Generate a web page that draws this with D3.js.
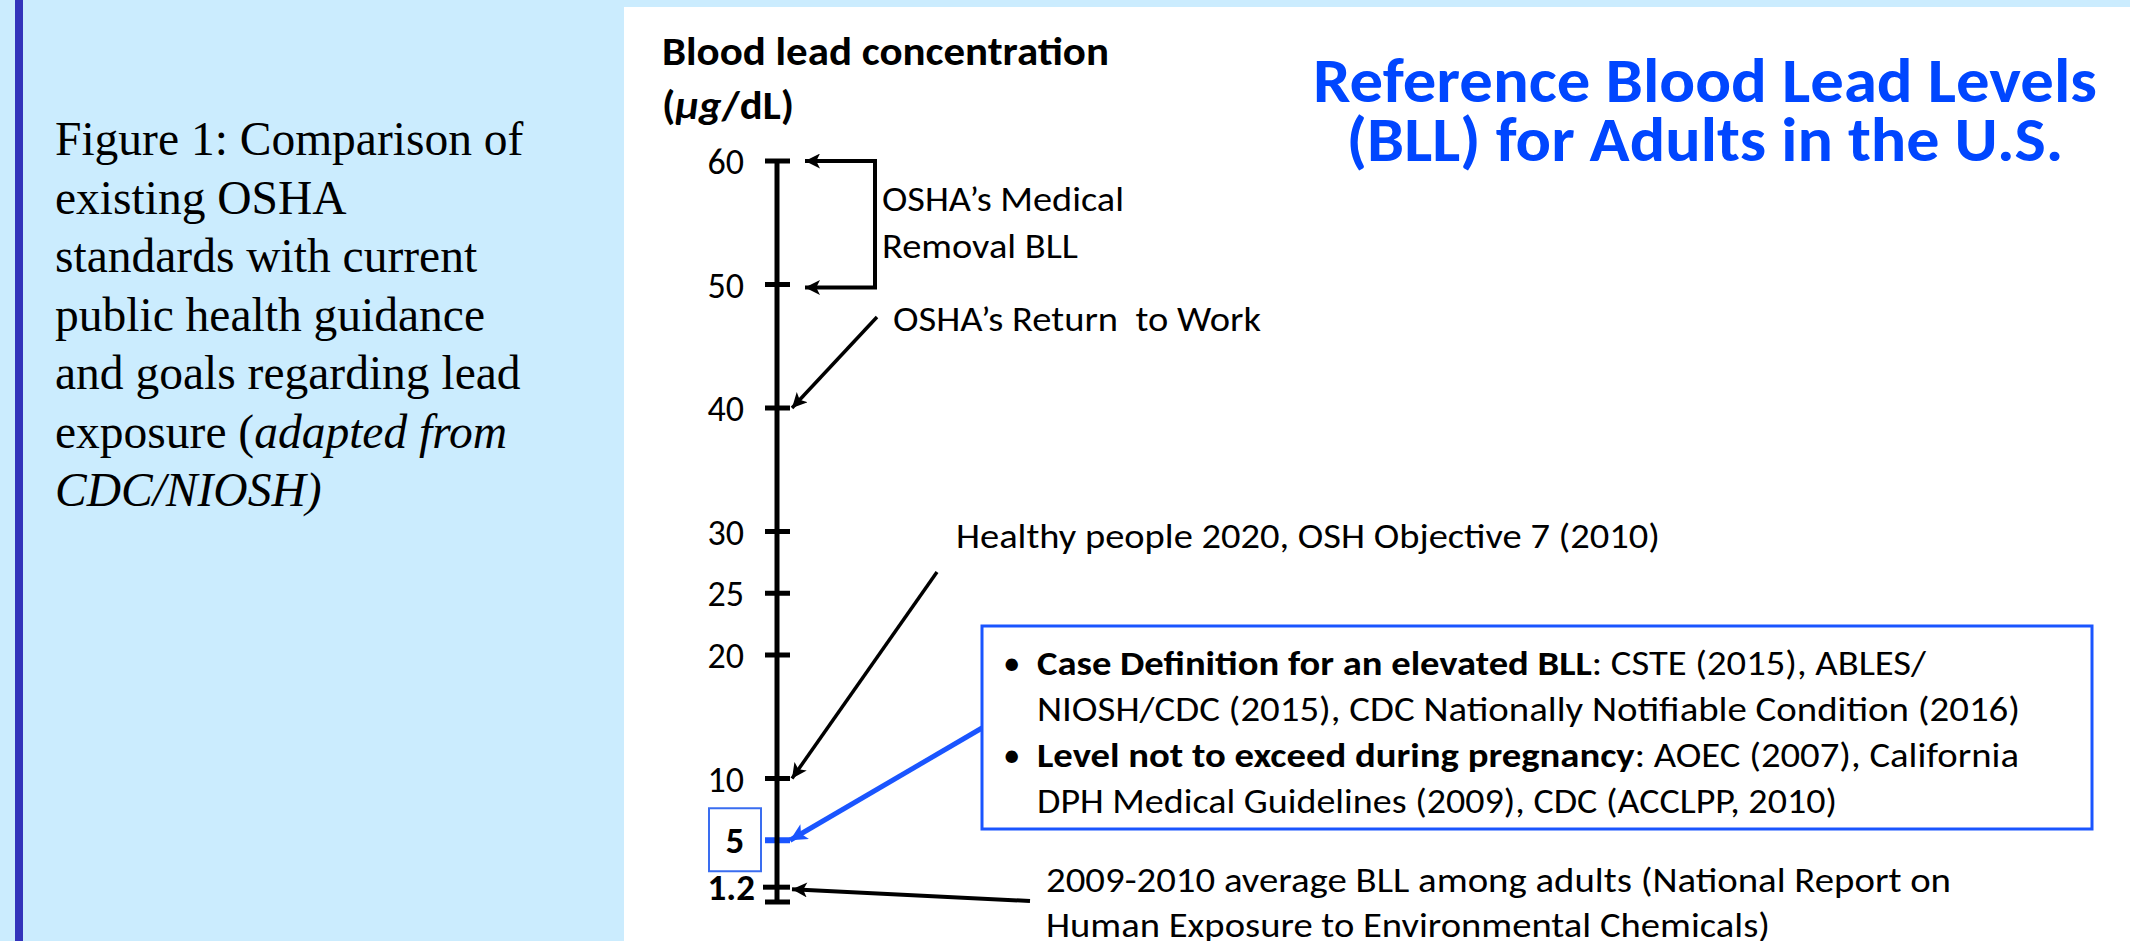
<!DOCTYPE html>
<html>
<head>
<meta charset="utf-8">
<script src="https://cdn.jsdelivr.net/npm/d3@7"></script>
<style>
  html, body { margin: 0; padding: 0; background: #cbecfe; overflow: hidden; }
  svg { display: block; }
  .sans { font-family: Carlito, Calibri, Lato, sans-serif; }
  .serif { font-family: "Liberation Serif", "Times New Roman", serif; }
  text { white-space: pre; }
</style>
</head>
<body>
<svg id="chart" width="2130" height="941"></svg>
<script>
// scale values, ug/dL
const tickValues = [60, 50, 40, 30, 25, 20, 10, 5, 1.2];
const boldTicks = [5, 1.2];
const highlightTick = 5;
const axisDomain = [0, 60];

// where each annotation points on the scale
const medicalRemoval = [60, 50];
const returnToWork = 40;
const healthyPeople = 10;
const caseDefinition = 5;
const adultAverage = 1.2;

const captionLines = [
  [['Figure 1: Comparison of', false]],
  [['existing OSHA', false]],
  [['standards with current', false]],
  [['public health guidance', false]],
  [['and goals regarding lead', false]],
  [['exposure (', false], ['adapted from', true]],
  [['CDC/NIOSH)', true]]
];
const titleLines = ['Reference Blood Lead Levels', '(BLL) for Adults in the U.S.'];
const axisTitle = 'Blood lead concentration';
const medicalLines = ['OSHA\u2019s Medical', 'Removal BLL'];
const returnLabel = 'OSHA\u2019s Return  to Work';
const healthyLabel = 'Healthy people 2020, OSH Objective 7 (2010)';
const boxLines = [
  ['Case Definition for an elevated BLL', ': CSTE (2015), ABLES/'],
  ['', 'NIOSH/CDC (2015), CDC Nationally Notifiable Condition (2016)'],
  ['Level not to exceed during pregnancy', ': AOEC (2007), California'],
  ['', 'DPH Medical Guidelines (2009), CDC (ACCLPP, 2010)']
];
const bulletRows = [0, 2];
const averageLines = [
  '2009-2010 average BLL among adults (National Report on',
  'Human Exposure to Environmental Chemicals)'
];

const svg = d3.select('#chart');
const blue = '#1a55ff';

// squeeze a text so it spans the width seen in the picture
function fit(sel, w) {
  sel.attr('textLength', w).attr('lengthAdjust', 'spacingAndGlyphs');
}

// backgrounds
svg.append('rect').attr('x', 15).attr('y', 0).attr('width', 8).attr('height', 941)
  .attr('fill', '#3333bb');
svg.append('rect').attr('x', 624).attr('y', 7).attr('width', 1506).attr('height', 934)
  .attr('fill', '#fff');

// caption on the left
const caption = svg.append('text').attr('class', 'serif')
  .attr('font-size', 47.5).attr('fill', '#000');
captionLines.forEach(function (line, i) {
  line.forEach(function (part, j) {
    const t = caption.append('tspan').text(part[0])
      .attr('font-style', part[1] ? 'italic' : 'normal');
    if (j === 0) t.attr('x', 55).attr('y', 155 + i * 58.5);
  });
});

// markers
const defs = svg.append('defs');
function marker(id, color, len, wid) {
  defs.append('marker').attr('id', id)
    .attr('viewBox', '0 0 10 10').attr('refX', 10).attr('refY', 5)
    .attr('markerUnits', 'userSpaceOnUse')
    .attr('markerWidth', len).attr('markerHeight', wid)
    .attr('orient', 'auto-start-reverse')
    .append('path').attr('d', 'M0,0 L10,5 L0,10 L2.5,5 z').attr('fill', color);
}
marker('arrowBlack', '#000', 18, 15);
marker('arrowBlue', blue, 22, 17);

// title
svg.append('g').selectAll('text').data(titleLines).enter().append('text')
  .attr('class', 'sans')
  .attr('x', 1705).attr('y', function (d, i) { return 102 + i * 59; })
  .attr('text-anchor', 'middle')
  .attr('font-size', 62).attr('font-weight', 'bold').attr('fill', '#0046ff')
  .text(function (d) { return d; })
  .each(function (d, i) { fit(d3.select(this), [784, 717][i]); });

// axis title
const at1 = svg.append('text').attr('class', 'sans').attr('x', 662).attr('y', 65)
  .attr('font-size', 40).attr('font-weight', 'bold').text(axisTitle);
fit(at1, 447);
const at2 = svg.append('text').attr('class', 'sans').attr('x', 662).attr('y', 119)
  .attr('font-size', 40).attr('font-weight', 'bold');
at2.append('tspan').text('(');
at2.append('tspan').attr('font-style', 'italic').text('\u03bcg');
at2.append('tspan').text('/dL)');
fit(at2, 132);

// scale
const y = d3.scaleLinear().domain(axisDomain).range([902, 161]);
const axisX = 777;
const axisG = svg.append('g');

// highlighted value box
axisG.append('rect').attr('x', axisX - 68).attr('y', y(highlightTick) - 32)
  .attr('width', 52).attr('height', 63)
  .attr('fill', 'none').attr('stroke', '#3a6df0').attr('stroke-width', 2);

axisG.selectAll('line.tick').data(tickValues.concat([axisDomain[0]])).enter()
  .append('line').attr('class', 'tick')
  .attr('x1', function (d) { return d === 1.2 ? axisX - 14 : axisX - 12; })
  .attr('x2', axisX + 13)
  .attr('y1', function (d) { return y(d); }).attr('y2', function (d) { return y(d); })
  .attr('stroke', function (d) { return d === highlightTick ? blue : '#000'; })
  .attr('stroke-width', function (d) { return d === highlightTick ? 6 : 5; });

axisG.append('line').attr('x1', axisX).attr('x2', axisX)
  .attr('y1', y(axisDomain[0]) + 2).attr('y2', y(axisDomain[1]) - 2)
  .attr('stroke', '#000').attr('stroke-width', 5);

axisG.selectAll('text.lbl').data(tickValues).enter().append('text')
  .attr('class', 'lbl sans')
  .attr('x', function (d) {
    if (d === highlightTick) return axisX - 42;
    if (d === 1.2) return axisX - 22;
    return axisX - 33;
  })
  .attr('y', function (d) { return y(d) + 13; })
  .attr('text-anchor', function (d) { return d === highlightTick ? 'middle' : 'end'; })
  .attr('font-size', function (d) { return boldTicks.indexOf(d) >= 0 ? 37 : 36; })
  .attr('font-weight', function (d) { return boldTicks.indexOf(d) >= 0 ? 'bold' : 'normal'; })
  .text(function (d) { return d; });

// annotations
const ann = svg.append('g').attr('class', 'sans').attr('font-size', 35).attr('fill', '#000');

// medical removal bracket
ann.append('path')
  .attr('d', 'M' + (axisX + 28) + ',' + y(medicalRemoval[0]) + 'H875V' + (y(medicalRemoval[1]) + 3) +
    'H' + (axisX + 28))
  .attr('fill', 'none').attr('stroke', '#000').attr('stroke-width', 4)
  .attr('marker-start', 'url(#arrowBlack)').attr('marker-end', 'url(#arrowBlack)');
ann.selectAll('text.med').data(medicalLines).enter().append('text').attr('class', 'med')
  .attr('x', 882).attr('y', function (d, i) { return 211 + i * 47; })
  .text(function (d) { return d; })
  .each(function (d, i) { fit(d3.select(this), [242, 196][i]); });

// return to work
ann.append('line').attr('x1', 877).attr('y1', 317).attr('x2', axisX + 15).attr('y2', y(returnToWork))
  .attr('stroke', '#000').attr('stroke-width', 3.5).attr('marker-end', 'url(#arrowBlack)');
fit(ann.append('text').attr('x', 893).attr('y', 331).text(returnLabel), 368);

// healthy people
ann.append('line').attr('x1', 937).attr('y1', 572).attr('x2', axisX + 15).attr('y2', y(healthyPeople))
  .attr('stroke', '#000').attr('stroke-width', 3.5).attr('marker-end', 'url(#arrowBlack)');
fit(ann.append('text').attr('x', 956).attr('y', 548).text(healthyLabel), 704);

// case definition box
ann.append('line').attr('x1', 982).attr('y1', 728).attr('x2', axisX + 13).attr('y2', y(caseDefinition))
  .attr('stroke', blue).attr('stroke-width', 5).attr('marker-end', 'url(#arrowBlue)');
ann.append('rect').attr('x', 982).attr('y', 626).attr('width', 1110).attr('height', 203)
  .attr('fill', '#fff').attr('stroke', blue).attr('stroke-width', 3);
const boxWidths = [889, 983, 982, 800];
boxLines.forEach(function (line, i) {
  const t = ann.append('text').attr('x', 1037).attr('y', 675 + i * 46);
  if (line[0]) t.append('tspan').attr('font-weight', 'bold').text(line[0]);
  t.append('tspan').text(line[1]);
  fit(t, boxWidths[i]);
  if (bulletRows.indexOf(i) >= 0) {
    ann.append('text').attr('x', 1003).attr('y', 675 + i * 46).text('\u2022');
  }
});

// adult average
ann.append('line').attr('x1', 1030).attr('y1', 901).attr('x2', axisX + 15).attr('y2', y(adultAverage) + 2)
  .attr('stroke', '#000').attr('stroke-width', 4).attr('marker-end', 'url(#arrowBlack)');
ann.selectAll('text.avg').data(averageLines).enter().append('text').attr('class', 'avg')
  .attr('x', 1046).attr('y', function (d, i) { return 892 + i * 45; })
  .text(function (d) { return d; })
  .each(function (d, i) { fit(d3.select(this), [905, 724][i]); });
</script>
</body>
</html>
